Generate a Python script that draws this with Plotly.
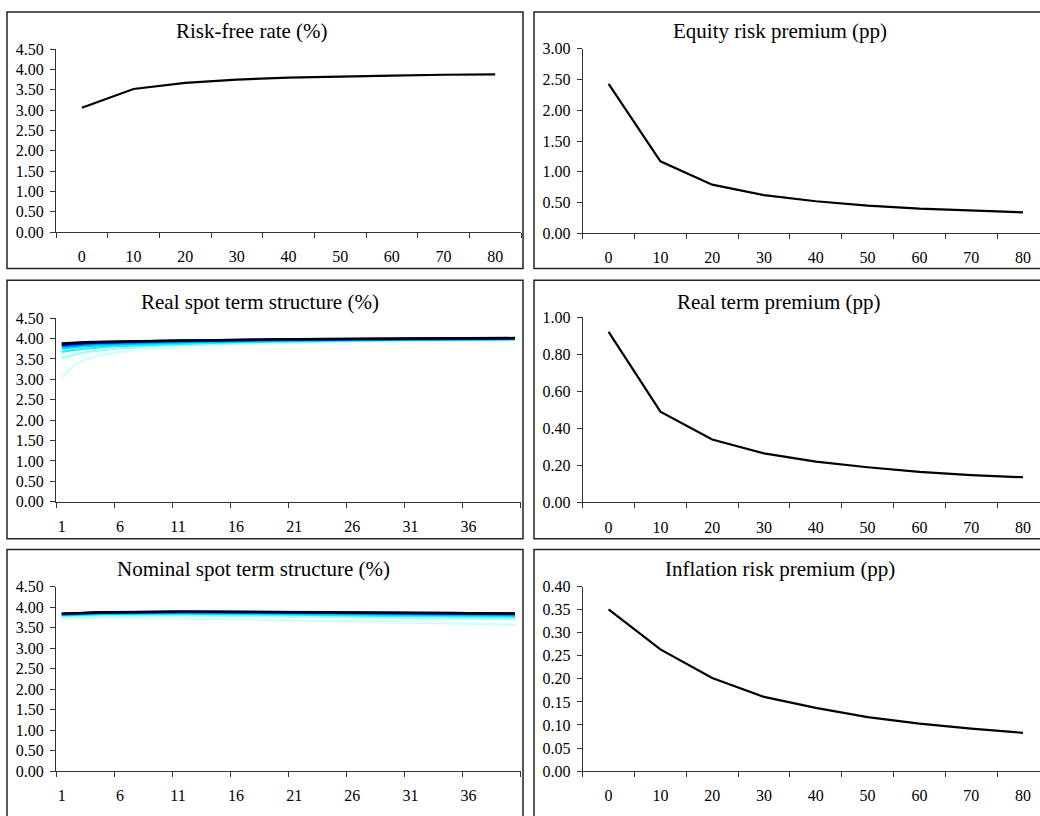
import plotly.graph_objects as go

# ---------------- data ----------------
years = [0, 10, 20, 30, 40, 50, 60, 70, 80]
maturities = list(range(1, 41))
maturity_ticks = [1, 6, 11, 16, 21, 26, 31, 36]

risk_free = [3.06, 3.52, 3.67, 3.75, 3.80, 3.83, 3.85, 3.87, 3.88]
equity_premium = [2.43, 1.17, 0.79, 0.62, 0.52, 0.45, 0.40, 0.37, 0.34]
real_term_premium = [0.92, 0.49, 0.34, 0.265, 0.22, 0.19, 0.165, 0.148, 0.136]
inflation_premium = [0.351, 0.264, 0.202, 0.161, 0.137, 0.117, 0.103, 0.092, 0.083]

real_t0 = [3.06, 3.33, 3.48, 3.57, 3.63, 3.67, 3.71, 3.74, 3.76, 3.78, 3.80, 3.81, 3.83, 3.84, 3.85, 3.86, 3.87, 3.875, 3.88, 3.89,
           3.895, 3.90, 3.905, 3.91, 3.915, 3.92, 3.925, 3.93, 3.935, 3.94, 3.942, 3.945, 3.948, 3.95, 3.953, 3.955, 3.958, 3.96, 3.962, 3.965]
real_t10 = [3.52, 3.60, 3.66, 3.70, 3.73, 3.76, 3.78, 3.80, 3.81, 3.83, 3.84, 3.85, 3.86, 3.87, 3.88, 3.885, 3.89, 3.90, 3.905, 3.91,
            3.915, 3.92, 3.925, 3.93, 3.935, 3.94, 3.942, 3.945, 3.948, 3.95, 3.953, 3.956, 3.958, 3.96, 3.962, 3.964, 3.966, 3.968, 3.97, 3.972]
real_t20 = [3.67, 3.72, 3.75, 3.78, 3.80, 3.82, 3.83, 3.845, 3.855, 3.865, 3.875, 3.88, 3.89, 3.895, 3.90, 3.91, 3.915, 3.92, 3.925, 3.93,
            3.935, 3.94, 3.943, 3.946, 3.95, 3.953, 3.956, 3.958, 3.96, 3.963, 3.965, 3.967, 3.969, 3.971, 3.973, 3.975, 3.977, 3.978, 3.98, 3.981]
real_t30 = [3.75, 3.79, 3.81, 3.83, 3.845, 3.86, 3.87, 3.88, 3.885, 3.895, 3.90, 3.91, 3.915, 3.92, 3.925, 3.93, 3.935, 3.94, 3.943, 3.946,
            3.95, 3.953, 3.956, 3.959, 3.962, 3.964, 3.966, 3.968, 3.97, 3.972, 3.974, 3.976, 3.978, 3.979, 3.981, 3.982, 3.984, 3.985, 3.986, 3.988]
real_t40 = [3.80, 3.83, 3.85, 3.865, 3.875, 3.885, 3.895, 3.90, 3.91, 3.915, 3.92, 3.925, 3.93, 3.935, 3.94, 3.944, 3.948, 3.952, 3.955, 3.958,
            3.961, 3.964, 3.966, 3.968, 3.97, 3.972, 3.974, 3.976, 3.978, 3.98, 3.982, 3.983, 3.985, 3.986, 3.988, 3.989, 3.99, 3.992, 3.993, 3.994]
real_t50 = [3.83, 3.86, 3.875, 3.89, 3.90, 3.905, 3.915, 3.92, 3.925, 3.93, 3.935, 3.94, 3.945, 3.95, 3.953, 3.956, 3.96, 3.963, 3.966, 3.968,
            3.97, 3.973, 3.975, 3.977, 3.979, 3.981, 3.983, 3.985, 3.986, 3.988, 3.989, 3.99, 3.992, 3.993, 3.994, 3.996, 3.997, 3.998, 3.999, 4.00]
real_t60 = [3.85, 3.875, 3.89, 3.90, 3.91, 3.92, 3.925, 3.93, 3.935, 3.94, 3.945, 3.95, 3.955, 3.958, 3.962, 3.965, 3.968, 3.97, 3.973, 3.975,
            3.978, 3.98, 3.982, 3.984, 3.986, 3.988, 3.99, 3.991, 3.993, 3.994, 3.995, 3.997, 3.998, 3.999, 4.00, 4.001, 4.002, 4.003, 4.004, 4.005]
real_t70 = [3.87, 3.89, 3.90, 3.91, 3.92, 3.925, 3.93, 3.935, 3.94, 3.945, 3.95, 3.955, 3.96, 3.963, 3.966, 3.969, 3.972, 3.975, 3.977, 3.98,
            3.982, 3.984, 3.986, 3.988, 3.99, 3.992, 3.993, 3.995, 3.996, 3.998, 3.999, 4.00, 4.002, 4.003, 4.004, 4.005, 4.006, 4.007, 4.008, 4.009]
real_t80 = [3.88, 3.90, 3.91, 3.92, 3.925, 3.93, 3.935, 3.94, 3.945, 3.95, 3.955, 3.96, 3.965, 3.968, 3.971, 3.974, 3.977, 3.98, 3.982, 3.985,
            3.987, 3.989, 3.991, 3.993, 3.995, 3.997, 3.998, 4.00, 4.001, 4.003, 4.004, 4.005, 4.007, 4.008, 4.009, 4.01, 4.011, 4.012, 4.013, 4.014]

nom_t0 = [3.72, 3.73, 3.74, 3.74, 3.745, 3.745, 3.745, 3.74, 3.74, 3.735, 3.73, 3.725, 3.72, 3.715, 3.71, 3.70, 3.695, 3.69, 3.68, 3.675,
          3.67, 3.665, 3.66, 3.65, 3.645, 3.64, 3.635, 3.63, 3.625, 3.62, 3.61, 3.605, 3.60, 3.595, 3.59, 3.585, 3.58, 3.578, 3.575, 3.57]
nom_t10 = [3.77, 3.78, 3.785, 3.79, 3.795, 3.795, 3.80, 3.80, 3.80, 3.80, 3.80, 3.795, 3.795, 3.79, 3.79, 3.785, 3.78, 3.78, 3.775, 3.77,
           3.77, 3.765, 3.76, 3.76, 3.755, 3.75, 3.75, 3.745, 3.74, 3.74, 3.735, 3.73, 3.73, 3.725, 3.72, 3.72, 3.715, 3.71, 3.71, 3.705]
nom_t20 = [3.80, 3.81, 3.82, 3.825, 3.83, 3.83, 3.835, 3.835, 3.835, 3.835, 3.835, 3.835, 3.83, 3.83, 3.83, 3.825, 3.825, 3.82, 3.82, 3.815,
           3.815, 3.81, 3.81, 3.805, 3.80, 3.80, 3.795, 3.795, 3.79, 3.79, 3.785, 3.785, 3.78, 3.78, 3.775, 3.775, 3.77, 3.77, 3.765, 3.765]
nom_t30 = [3.81, 3.825, 3.835, 3.84, 3.845, 3.85, 3.85, 3.855, 3.855, 3.855, 3.855, 3.855, 3.855, 3.85, 3.85, 3.85, 3.845, 3.845, 3.845, 3.84,
           3.84, 3.835, 3.835, 3.83, 3.83, 3.83, 3.825, 3.825, 3.82, 3.82, 3.815, 3.815, 3.81, 3.81, 3.805, 3.805, 3.80, 3.80, 3.80, 3.795]
nom_t40 = [3.82, 3.835, 3.845, 3.85, 3.855, 3.86, 3.865, 3.865, 3.87, 3.87, 3.87, 3.87, 3.87, 3.865, 3.865, 3.865, 3.86, 3.86, 3.86, 3.855,
           3.855, 3.855, 3.85, 3.85, 3.845, 3.845, 3.845, 3.84, 3.84, 3.835, 3.835, 3.83, 3.83, 3.83, 3.825, 3.825, 3.82, 3.82, 3.82, 3.815]
nom_t50 = [3.83, 3.845, 3.855, 3.86, 3.865, 3.87, 3.875, 3.875, 3.88, 3.88, 3.88, 3.88, 3.88, 3.875, 3.875, 3.875, 3.87, 3.87, 3.87, 3.87,
           3.865, 3.865, 3.865, 3.86, 3.86, 3.855, 3.855, 3.855, 3.85, 3.85, 3.845, 3.845, 3.845, 3.84, 3.84, 3.835, 3.835, 3.835, 3.83, 3.83]
nom_t60 = [3.835, 3.85, 3.86, 3.865, 3.87, 3.875, 3.88, 3.88, 3.885, 3.885, 3.885, 3.885, 3.885, 3.885, 3.88, 3.88, 3.88, 3.88, 3.875, 3.875,
           3.875, 3.87, 3.87, 3.87, 3.865, 3.865, 3.865, 3.86, 3.86, 3.855, 3.855, 3.855, 3.85, 3.85, 3.85, 3.845, 3.845, 3.84, 3.84, 3.84]
nom_t70 = [3.84, 3.855, 3.865, 3.87, 3.875, 3.88, 3.885, 3.885, 3.89, 3.89, 3.89, 3.89, 3.89, 3.89, 3.885, 3.885, 3.885, 3.885, 3.88, 3.88,
           3.88, 3.875, 3.875, 3.875, 3.87, 3.87, 3.87, 3.865, 3.865, 3.86, 3.86, 3.86, 3.855, 3.855, 3.855, 3.85, 3.85, 3.85, 3.845, 3.845]
nom_t80 = [3.845, 3.86, 3.87, 3.875, 3.88, 3.885, 3.89, 3.89, 3.895, 3.895, 3.895, 3.895, 3.895, 3.895, 3.89, 3.89, 3.89, 3.89, 3.885, 3.885,
           3.885, 3.88, 3.88, 3.88, 3.875, 3.875, 3.875, 3.87, 3.87, 3.865, 3.865, 3.865, 3.86, 3.86, 3.86, 3.855, 3.855, 3.855, 3.85, 3.85]

real_curves = [real_t0, real_t10, real_t20, real_t30, real_t40, real_t50, real_t60, real_t70, real_t80]
nominal_curves = [nom_t0, nom_t10, nom_t20, nom_t30, nom_t40, nom_t50, nom_t60, nom_t70, nom_t80]
curve_colors = ["#ccffff", "#99ffff", "#00ffff", "#00ccff", "#0099ff", "#0033ff", "#0000aa", "#000055", "#000000"]

titles = ["Risk-free rate (%)", "Equity risk premium (pp)", "Real spot term structure (%)",
          "Real term premium (pp)", "Nominal spot term structure (%)", "Inflation risk premium (pp)"]

# ---------------- layout helpers ----------------
W, H = 1040, 816
FONT = "Liberation Serif"
AX = "#333333"
TICK_SIZE = 16
TITLE_SIZE = 21

def px(x):
    return x / W

def py(y):
    return 1 - y / H

fig = go.Figure()

# panel geometry (pixels): x0, x1, ytop, ybottom
panels = {
    1: (56, 521, 42, 229),
    2: (582.7, 1040, 41.7, 230),
    3: (56, 520.8, 316.7, 504.3),
    4: (582.7, 1040, 315.7, 505),
    5: (56, 520.8, 591, 779.3),
    6: (582.7, 1040, 591, 779.3),
}

def add_line(i, x, y, color, width):
    fig.add_trace(go.Scatter(x=x, y=y, mode="lines", line=dict(color=color, width=width),
                             xaxis="x" if i == 1 else f"x{i}", yaxis="y" if i == 1 else f"y{i}",
                             showlegend=False, hoverinfo="skip"))

add_line(1, years, risk_free, "#000000", 2.2)
add_line(2, years, equity_premium, "#000000", 2.2)
for c, col in zip(real_curves, curve_colors):
    add_line(3, maturities, c, col, 2.2)
add_line(4, years, real_term_premium, "#000000", 2.2)
for c, col in zip(nominal_curves, curve_colors):
    add_line(5, maturities, c, col, 2.2)
add_line(6, years, inflation_premium, "#000000", 2.2)

y_specs = {
    1: (4.5, 0.5), 2: (3.0, 0.5), 3: (4.5, 0.5),
    4: (1.0, 0.2), 5: (4.5, 0.5), 6: (0.4, 0.05),
}

layout = dict(width=W, height=H, margin=dict(l=0, r=0, t=0, b=0),
              plot_bgcolor="white", paper_bgcolor="white", showlegend=False,
              font=dict(family=FONT, size=TICK_SIZE, color="#000000"))

for i, (x0, x1, yt, yb) in panels.items():
    xs = "xaxis" if i == 1 else f"xaxis{i}"
    ys = "yaxis" if i == 1 else f"yaxis{i}"
    if i in (3, 5):
        rng = [0.5, 40.5]
        tv = maturity_ticks
        minor_vals = [0.5 + 5 * k for k in range(9)]
    else:
        rng = [-5, 85] if i == 1 else [-5, -5 + (1040 - 582.7) / 5.18]
        tv = years
        minor_vals = [-5 + 10 * k for k in range(10)]
    top, step = y_specs[i]
    nticks = int(round(top / step))
    layout[xs] = dict(domain=[px(x0), px(x1)], range=rng, anchor="y" if i == 1 else f"y{i}",
                      tickmode="array", tickvals=tv, ticktext=[str(v) for v in tv],
                      ticks="", showline=True, linecolor=AX, linewidth=1, showgrid=False,
                      zeroline=False, ticklabelstandoff=10,
                      minor=dict(tickmode="array", tickvals=minor_vals, ticks="outside",
                                 ticklen=5, tickcolor=AX, tickwidth=1, showgrid=False),
                      tickfont=dict(family=FONT, size=TICK_SIZE, color="#000000"), fixedrange=True)
    layout[ys] = dict(domain=[py(yb), py(yt)], range=[0, top], anchor="x" if i == 1 else f"x{i}",
                      tickmode="array", tickvals=[round(step * k, 4) for k in range(nticks + 1)],
                      tickformat=".2f", ticks="outside", ticklen=5, tickcolor=AX,
                      showline=True, linecolor=AX, linewidth=1, showgrid=False, zeroline=False,
                      ticklabelstandoff=3,
                      tickfont=dict(family=FONT, size=TICK_SIZE, color="#000000"), fixedrange=True)

fig.update_layout(**layout)

# panel boxes
boxes = [(7, 523, 4, 266), (534, 1046, 4, 266),
         (7, 523, 278, 542), (534, 1046, 278, 542),
         (7, 523, 553, 830), (534, 1046, 553, 830)]
for (x0, x1, y0, y1) in boxes:
    fig.add_shape(type="rect", xref="paper", yref="paper",
                  x0=px(x0), x1=px(x1), y0=py(y1), y1=py(y0),
                  line=dict(color="#222222", width=1.5), fillcolor="rgba(0,0,0,0)", layer="above")

# titles
title_pos = [(252, 23), (780, 23), (260, 300), (779, 300), (253, 573), (780, 573)]
for t, (tx, ty) in zip(titles, title_pos):
    fig.add_annotation(text=t, x=px(tx), y=py(ty), xref="paper", yref="paper",
                       showarrow=False, xanchor="center", yanchor="middle",
                       font=dict(family=FONT, size=TITLE_SIZE, color="#000000"))

fig.write_html("out.html", config={"displayModeBar": False},
               post_script="document.body.style.margin='0';document.body.style.overflow='hidden';")
